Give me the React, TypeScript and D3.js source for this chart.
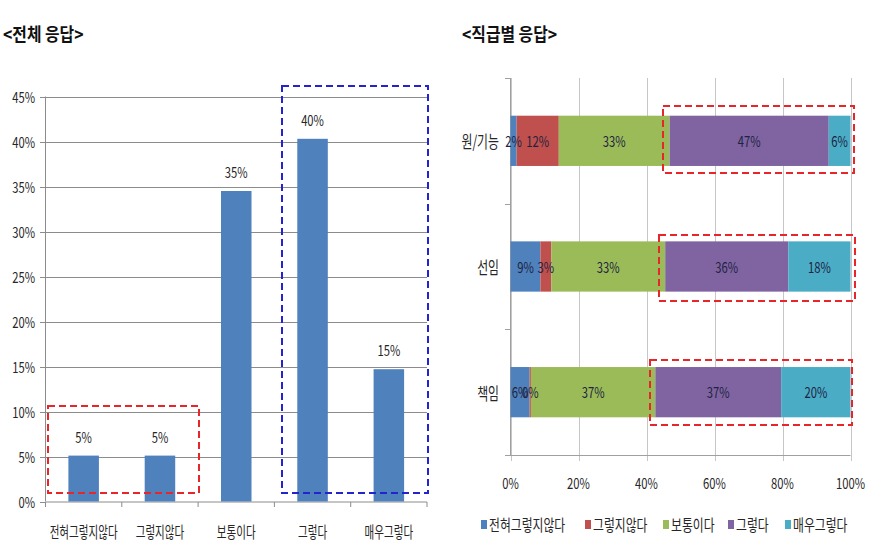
import React from "react";
import * as d3 from "d3";

// ---------- data ----------
const categories = ["전혀그렇지않다", "그렇지않다", "보통이다", "그렇다", "매우그렇다"];
const totalValues = [5.1, 5.1, 34.5, 40.3, 14.7];
const totalLabels = ["5%", "5%", "35%", "40%", "15%"];
const yTicks = [0, 5, 10, 15, 20, 25, 30, 35, 40, 45];

const ranks = ["원/기능", "선임", "책임"];
const rankValues = [
  [1.8, 12.4, 32.6, 46.8, 6.4],
  [8.8, 3.2, 33.5, 36.2, 18.3],
  [5.6, 0.4, 36.6, 37.0, 20.4],
];
const rankLabels = [
  ["2%", "12%", "33%", "47%", "6%"],
  ["9%", "3%", "33%", "36%", "18%"],
  ["6%", "0%", "37%", "37%", "20%"],
];
const xTicks = [0, 20, 40, 60, 80, 100];
const seriesColors = ["#4f81bd", "#c0504d", "#9bbb59", "#8064a2", "#4bacc6"];

const FONT = "'Noto Sans CJK KR', 'Noto Sans', sans-serif";

function T({ x, y, s = 0.75, size = 15, anchor = "middle", weight = 400, fill = "#262626", children }: any) {
  return (
    <text
      transform={`translate(${x},${y}) scale(${s},1)`}
      textAnchor={anchor}
      dominantBaseline="central"
      fontSize={size}
      fontWeight={weight}
      fill={fill}
      fontFamily={FONT}
    >
      {children}
    </text>
  );
}

export default function App() {
  // left chart scales
  const yL = d3.scaleLinear().domain([0, 45]).range([501.5, 96.5]);
  const xL = d3.scaleBand().domain(categories).range([45.5, 427]).paddingInner(0.6).paddingOuter(0.3);
  const bandL = d3.scaleBand().domain(categories).range([45.5, 427]);

  // right chart scales
  const xR = d3.scaleLinear().domain([0, 100]).range([510.5, 850.5]);
  const yR = d3.scaleBand().domain(ranks).range([78, 455]).paddingInner(0.6).paddingOuter(0.3);
  const bandR = d3.scaleBand().domain(ranks).range([78, 455]);

  const stacks = rankValues.map((vals) => {
    let acc = 0;
    return vals.map((v) => {
      const s = acc;
      acc += v;
      return [s, acc];
    });
  });

  const legendX = [481, 585, 663, 728, 785];

  return (
    <svg width={871} height={553} style={{ position: "absolute", left: 0, top: 0, background: "#fff" }}>
      <rect x={0} y={0} width={871} height={553} fill="#fff" />
      {/* titles */}
      <T x={3} y={33} s={0.88} size={18} anchor="start" weight={700} fill="#111">{"<전체 응답>"}</T>
      <T x={462} y={33} s={0.88} size={18} anchor="start" weight={700} fill="#111">{"<직급별 응답>"}</T>

      {/* ---------- left chart ---------- */}
      {yTicks.map((t) => (
        <g key={t}>
          {t > 0 && (
            <line x1={45.5} x2={427} y1={Math.round(yL(t)) + 0.5} y2={Math.round(yL(t)) + 0.5} stroke="#8c8c8c" strokeWidth={1} />
          )}
          <line x1={40} x2={45.5} y1={Math.round(yL(t)) + 0.5} y2={Math.round(yL(t)) + 0.5} stroke="#8c8c8c" />
          <T x={35} y={yL(t)} anchor="end">{`${t}%`}</T>
        </g>
      ))}
      <line x1={45.5} x2={45.5} y1={yL(45)} y2={yL(0)} stroke="#8c8c8c" />
      <line x1={45.5} x2={427} y1={502} y2={502} stroke="#8c8c8c" />
      {categories.map((c) => (
        <line key={c} x1={bandL(c)! + bandL.bandwidth()} x2={bandL(c)! + bandL.bandwidth()} y1={502} y2={507} stroke="#8c8c8c" />
      ))}
      <line x1={45.5} x2={45.5} y1={502} y2={507} stroke="#8c8c8c" />
      {categories.map((c, i) => (
        <g key={c}>
          <rect x={xL(c)} y={yL(totalValues[i])} width={xL.bandwidth()} height={yL(0) - yL(totalValues[i])} fill="#4f81bd" />
          <T x={xL(c)! + xL.bandwidth() / 2} y={yL(totalValues[i]) - 19}>{totalLabels[i]}</T>
          <T x={bandL(c)! + bandL.bandwidth() / 2} y={531} s={0.66} size={16}>{c}</T>
        </g>
      ))}
      {/* highlight boxes */}
      <rect x={48} y={406} width={151} height={87} fill="none" stroke="#e8262a" strokeWidth={2} strokeDasharray="7,4" />
      <rect x={282} y={86} width={146} height={407} fill="none" stroke="#2323d0" strokeWidth={2} strokeDasharray="7,4" />

      {/* ---------- right chart ---------- */}
      {xTicks.map((t) => (
        <g key={t}>
          <line x1={Math.round(xR(t)) + 0.5} x2={Math.round(xR(t)) + 0.5} y1={78} y2={461} stroke="#c6c6c6" />
          <T x={xR(t)} y={483}>{`${t}%`}</T>
        </g>
      ))}
      <line x1={510.5} x2={850.5} y1={455.5} y2={455.5} stroke="#a0a0a0" />
      <line x1={510.5} x2={510.5} y1={78} y2={456} stroke="#a0a0a0" />
      {[0, 1, 2, 3].map((k) => {
        const yy = Math.round(78 + k * bandR.step()) + 0.5;
        return <line key={k} x1={505} x2={510.5} y1={yy} y2={yy} stroke="#a0a0a0" />;
      })}
      {ranks.map((r, ri) => (
        <g key={r}>
          <T x={499} y={yR(r)! + yR.bandwidth() / 2} anchor="end" s={0.7} size={17}>{r}</T>
          {stacks[ri].map(([a, b], si) => (
            <rect key={si} x={xR(a)} y={yR(r)} width={xR(b) - xR(a)} height={yR.bandwidth()} fill={seriesColors[si]} />
          ))}
          {stacks[ri].map(([a, b], si) => (
            <T key={"l" + si} x={(xR(a) + xR(b)) / 2} y={yR(r)! + yR.bandwidth() / 2} fill="#1d2340">{rankLabels[ri][si]}</T>
          ))}
        </g>
      ))}
      <rect x={663} y={106} width={191} height={67} fill="none" stroke="#e8262a" strokeWidth={2} strokeDasharray="7,4" />
      <rect x={659} y={235} width={196} height={66} fill="none" stroke="#e8262a" strokeWidth={2} strokeDasharray="7,4" />
      <rect x={650} y={360} width={202} height={65} fill="none" stroke="#e8262a" strokeWidth={2} strokeDasharray="7,4" />

      {/* legend */}
      {categories.map((c, i) => (
        <g key={c}>
          <rect x={legendX[i]} y={520} width={6} height={9} fill={seriesColors[i]} />
          <T x={legendX[i] + 8} y={524.5} anchor="start" s={0.74} size={16}>{c}</T>
        </g>
      ))}
    </svg>
  );
}
